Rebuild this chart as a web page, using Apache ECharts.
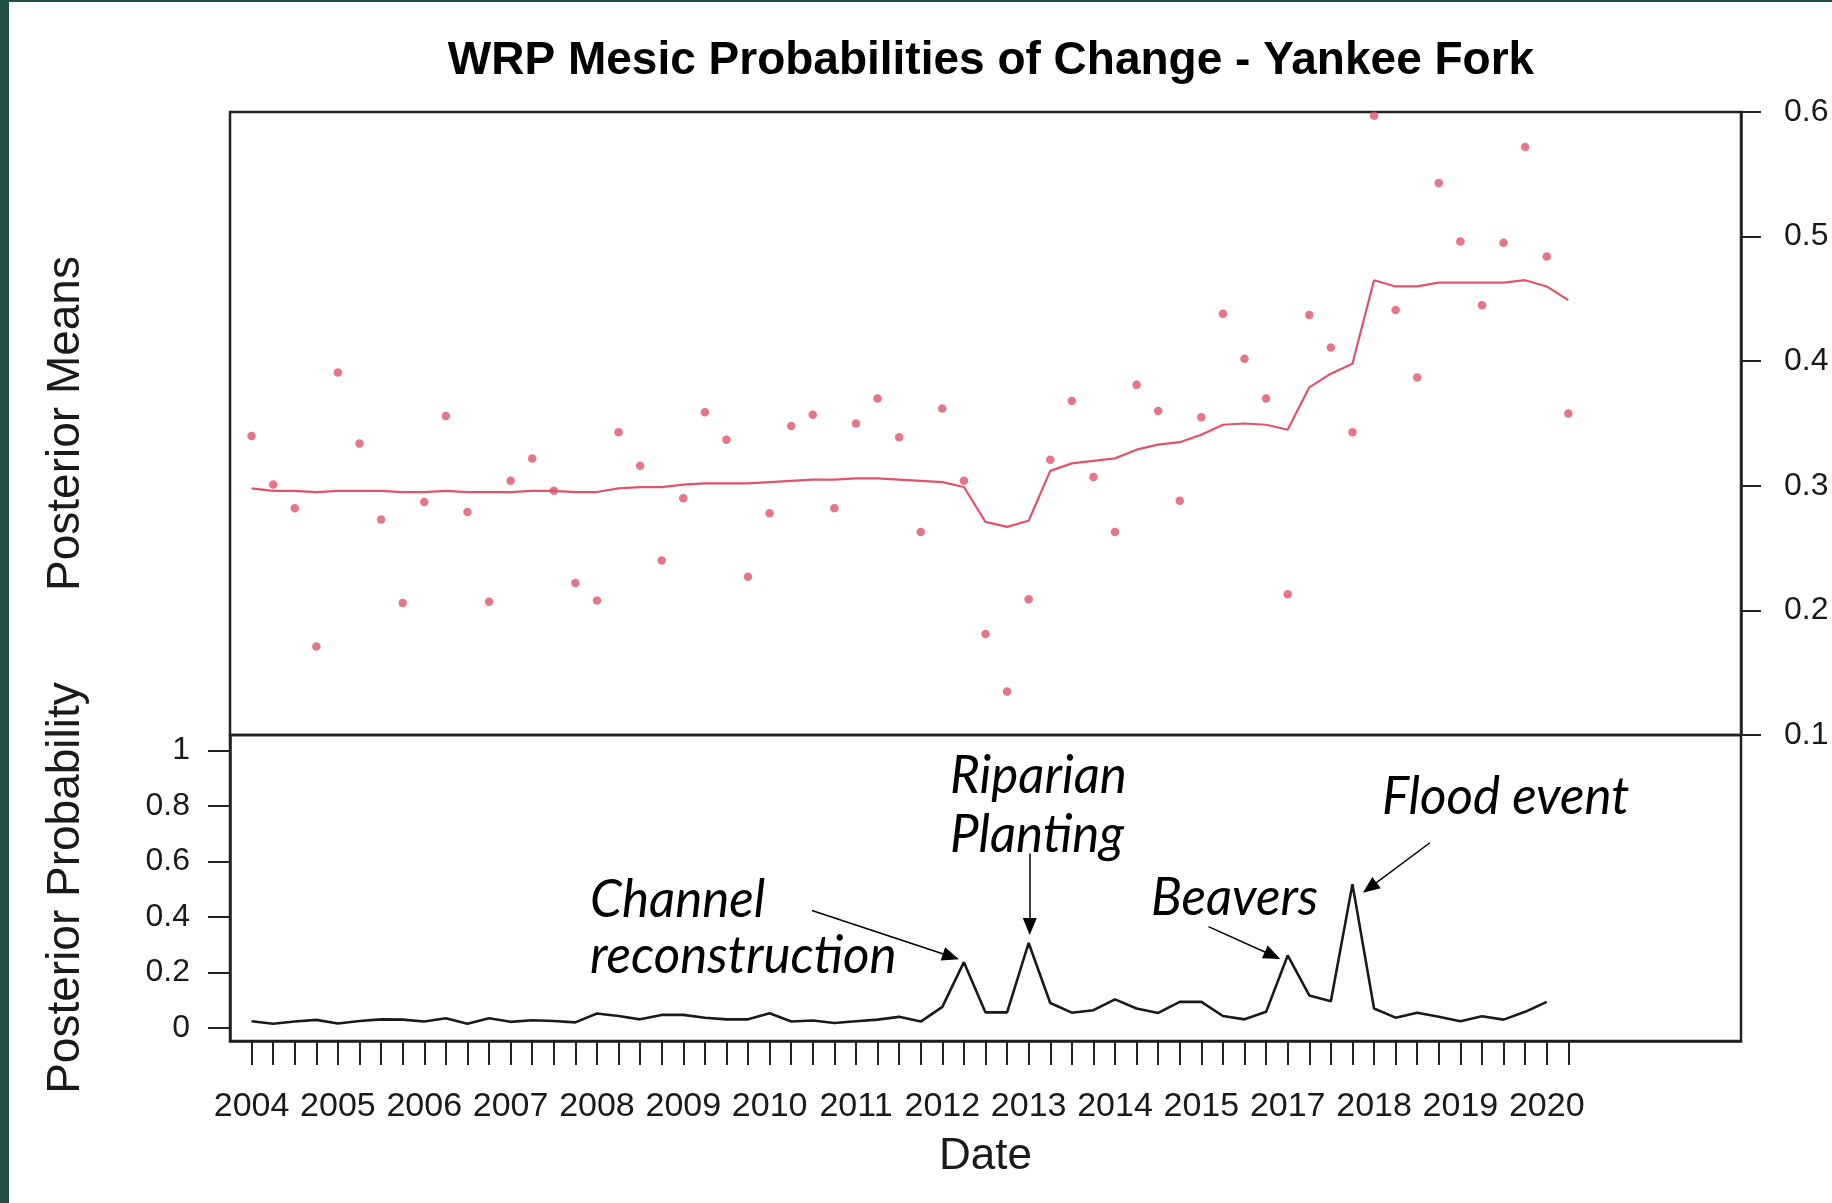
<!DOCTYPE html>
<html>
<head>
<meta charset="utf-8">
<script src="https://cdn.jsdelivr.net/npm/echarts@6/dist/echarts.min.js"></script>
<style>
  html, body { margin: 0; padding: 0; background: #ffffff; }
  #chart { width: 1832px; height: 1203px; }
</style>
</head>
<body>
<div id="chart"></div>
<script>
// ---- data (observation index 0..61 along the date axis) ----
const pointMeans = [0.340, 0.301, 0.282, 0.171, 0.391, 0.334, 0.273, 0.206, 0.287, 0.356,
  0.279, 0.207, 0.304, 0.322, 0.296, 0.222, 0.208, 0.343, 0.316, 0.240,
  0.290, 0.359, 0.337, 0.227, 0.278, 0.348, 0.357, 0.282, 0.350, 0.370,
  0.339, 0.263, 0.362, 0.304, 0.181, 0.135, 0.209, 0.321, 0.368, 0.307,
  0.263, 0.381, 0.360, 0.288, 0.355, 0.438, 0.402, 0.370, 0.213, 0.437,
  0.411, 0.343, 0.597, 0.441, 0.387, 0.543, 0.496, 0.445, 0.495, 0.572,
  0.484, 0.358];
const smoothMeans = [0.298, 0.296, 0.296, 0.295, 0.296, 0.296, 0.296, 0.295, 0.295, 0.296,
  0.295, 0.295, 0.295, 0.296, 0.296, 0.295, 0.295, 0.298, 0.299, 0.299,
  0.301, 0.302, 0.302, 0.302, 0.303, 0.304, 0.305, 0.305, 0.306, 0.306,
  0.305, 0.304, 0.303, 0.299, 0.271, 0.267, 0.272, 0.312, 0.318, 0.320,
  0.322, 0.329, 0.333, 0.335, 0.341, 0.349, 0.350, 0.349, 0.345, 0.379,
  0.390, 0.398, 0.465, 0.460, 0.460, 0.463, 0.463, 0.463, 0.463, 0.465,
  0.460, 0.449];
const changeProb = [0.024, 0.015, 0.023, 0.029, 0.016, 0.025, 0.031, 0.030, 0.023, 0.035,
  0.015, 0.035, 0.022, 0.028, 0.025, 0.020, 0.052, 0.043, 0.031, 0.047,
  0.047, 0.037, 0.031, 0.031, 0.053, 0.023, 0.027, 0.018, 0.024, 0.030,
  0.040, 0.023, 0.076, 0.237, 0.056, 0.056, 0.306, 0.090, 0.055, 0.064,
  0.103, 0.070, 0.054, 0.094, 0.094, 0.043, 0.031, 0.058, 0.261, 0.117,
  0.096, 0.518, 0.070, 0.037, 0.055, 0.040, 0.024, 0.042, 0.030, 0.058,
  0.094];
const yearLabels = ['2004', '2005', '2006', '2007', '2008', '2009', '2010', '2011',
  '2012', '2013', '2014', '2015', '2017', '2018', '2019', '2020'];
const yearLabelIndex = [0, 4, 8, 12, 16, 20, 24, 28, 32, 36, 40, 44, 48, 52, 56, 60];
const meanTicks = [0.1, 0.2, 0.3, 0.4, 0.5, 0.6];
const probTicks = [0, 0.2, 0.4, 0.6, 0.8, 1];
const annotations = [
  { text: 'Channel', x: 590, y: 900 },
  { text: 'reconstruction', x: 590, y: 956 },
  { text: 'Riparian', x: 950, y: 776 },
  { text: 'Planting', x: 950, y: 835 },
  { text: 'Beavers', x: 1151, y: 898 },
  { text: 'Flood event', x: 1382, y: 797 }
];
// arrows in data coordinates of the lower panel: [fromIdx, fromVal, toIdx, toVal]
const arrows = [
  [25.96, 0.423, 32.40, 0.257],
  [36.05, 0.628, 36.05, 0.365],
  [44.33, 0.365, 47.30, 0.261],
  [54.59, 0.667, 51.80, 0.505]
];

// ---- build ----
const obsTicks = pointMeans.map((_, i) => i);
const RED = '#DF536B';
const FONT = 'Liberation Sans, Arial, Helvetica, sans-serif';

const chart = echarts.init(document.getElementById('chart'), null, { renderer: 'canvas' });

const option = {
  animation: false,
  backgroundColor: '#ffffff',
  title: {
    text: 'WRP Mesic Probabilities of Change - Yankee Fork',
    left: 986,
    top: 33,
    textAlign: 'center',
    textStyle: { fontFamily: FONT, fontWeight: 'bold', fontSize: 46, color: '#000' }
  },
  grid: [
    { left: 230, right: 91, top: 112, height: 623, show: true, borderColor: '#222', borderWidth: 2.5, backgroundColor: 'transparent' },
    { left: 230, right: 91, top: 735, height: 306, show: true, borderColor: '#222', borderWidth: 2.5, backgroundColor: 'transparent' }
  ],
  xAxis: [
    { type: 'value', gridIndex: 0, min: -1, max: 69, show: false },
    {
      type: 'value', gridIndex: 1, min: -1, max: 69,
      axisLine: { show: true, onZero: false, lineStyle: { color: '#222', width: 2.5 } },
      axisTick: { show: true, customValues: obsTicks, length: 24, lineStyle: { color: '#222', width: 2 } },
      axisLabel: {
        show: true, customValues: yearLabelIndex, margin: 49,
        fontFamily: FONT, fontSize: 34, color: '#1a1a1a',
        formatter: function (v) { const k = yearLabelIndex.indexOf(Math.round(v)); return k >= 0 ? yearLabels[k] : ''; }
      },
      splitLine: { show: false },
      name: 'Date', nameLocation: 'middle', nameGap: 94,
      nameTextStyle: { fontFamily: FONT, fontSize: 44, color: '#1a1a1a' }
    }
  ],
  yAxis: [
    {
      type: 'value', gridIndex: 0, position: 'right', min: 0.1, max: 0.6,
      axisLine: { show: true, onZero: false, lineStyle: { color: '#222', width: 2.5 } },
      axisTick: { show: true, customValues: meanTicks, length: 20, lineStyle: { color: '#222', width: 2 } },
      axisLabel: {
        show: true, customValues: meanTicks, margin: 43,
        fontFamily: FONT, fontSize: 32, color: '#1a1a1a',
        formatter: function (v) { return String(Math.round(v * 10) / 10); }
      },
      splitLine: { show: false }
    },
    {
      type: 'value', gridIndex: 0, position: 'left', min: 0, max: 1,
      axisLine: { show: false, onZero: false }, axisTick: { show: false }, axisLabel: { show: false }, splitLine: { show: false },
      name: 'Posterior Means', nameLocation: 'middle', nameGap: 141,
      nameTextStyle: { fontFamily: FONT, fontSize: 46, color: '#1a1a1a' }
    },
    {
      type: 'value', gridIndex: 1, position: 'left', min: -0.047, max: 1.055,
      axisLine: { show: true, onZero: false, lineStyle: { color: '#222', width: 2.5 } },
      axisTick: { show: true, customValues: probTicks, length: 22, lineStyle: { color: '#222', width: 2 } },
      axisLabel: {
        show: true, customValues: probTicks, margin: 40,
        fontFamily: FONT, fontSize: 32, color: '#1a1a1a',
        formatter: function (v) { return String(Math.round(v * 10) / 10); }
      },
      splitLine: { show: false },
      name: 'Posterior Probability', nameLocation: 'middle', nameGap: 141,
      nameTextStyle: { fontFamily: FONT, fontSize: 46, color: '#1a1a1a' }
    }
  ],
  series: [
    {
      type: 'scatter', xAxisIndex: 0, yAxisIndex: 0,
      data: pointMeans.map((v, i) => [i, v]),
      symbol: 'circle', symbolSize: 8.5,
      itemStyle: { color: RED }, silent: true
    },
    {
      type: 'line', xAxisIndex: 0, yAxisIndex: 0,
      data: smoothMeans.map((v, i) => [i, v]),
      showSymbol: false, symbol: 'none',
      lineStyle: { color: RED, width: 2.2 }, silent: true
    },
    {
      type: 'line', xAxisIndex: 1, yAxisIndex: 2,
      data: changeProb.map((v, i) => [i, v]),
      showSymbol: false, symbol: 'none',
      lineStyle: { color: '#1a1a1a', width: 2.6 }, silent: true,
      markLine: {
        silent: true, animation: false,
        symbol: ['none', 'triangle'], symbolSize: [14, 17],
        label: { show: false },
        lineStyle: { color: '#000', width: 1.5, type: 'solid' },
        emphasis: { disabled: true },
        data: arrows.map(a => [{ coord: [a[0], a[1]] }, { coord: [a[2], a[3]] }])
      }
    }
  ],
  graphic: [
    { type: 'rect', shape: { x: 0, y: 0, width: 9, height: 1203 }, style: { fill: '#1f4e45' }, silent: true },
    { type: 'rect', shape: { x: 0, y: 0, width: 1832, height: 2 }, style: { fill: '#1f4e45' }, silent: true }
  ].concat(annotations.map(a => ({
    type: 'text', x: a.x, y: a.y, scaleX: 0.965, silent: true,
    style: {
      text: a.text, fontFamily: 'Lato, Open Sans, sans-serif', fontStyle: 'italic',
      fontSize: 53, fill: '#000', align: 'left', verticalAlign: 'middle'
    }
  })))
};

chart.setOption(option);
</script>
</body>
</html>
